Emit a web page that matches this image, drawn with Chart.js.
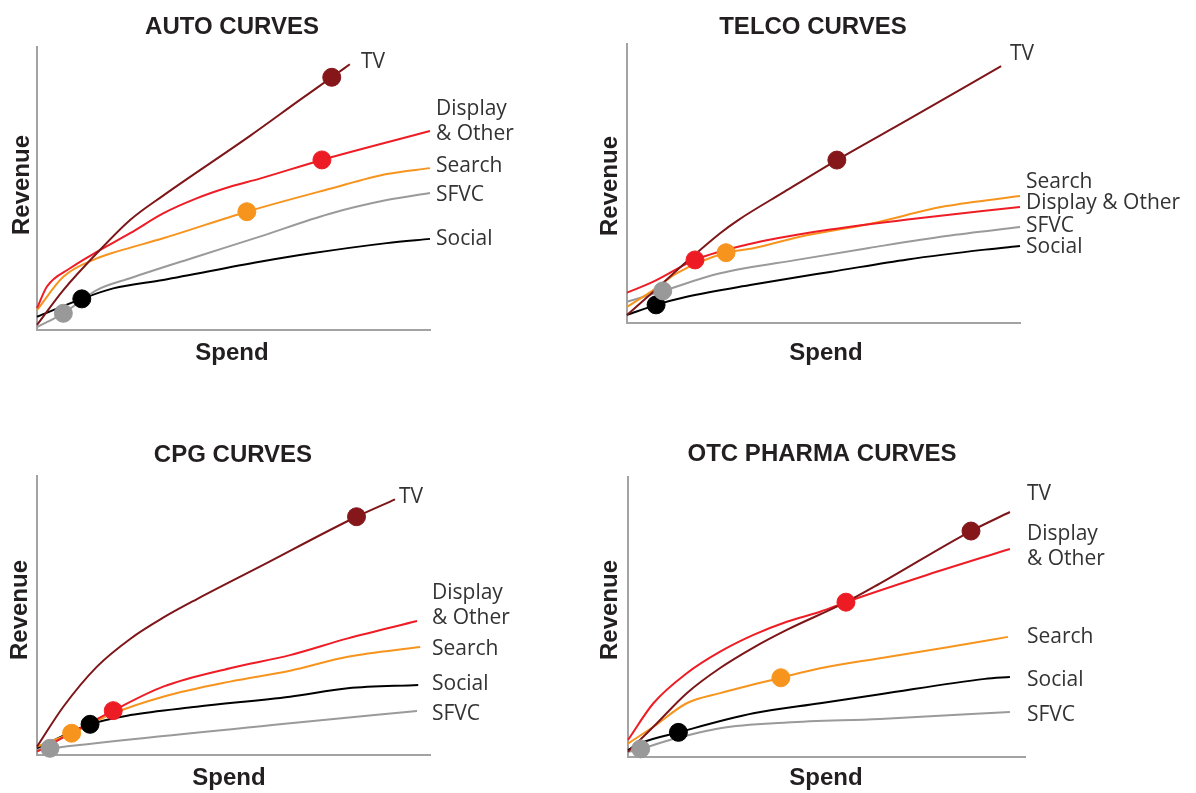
<!DOCTYPE html>
<html>
<head>
<meta charset="utf-8">
<script src="https://cdn.jsdelivr.net/npm/chart.js@4.4.1/dist/chart.umd.min.js"></script>
<style>
  html, body { margin: 0; padding: 0; background: #fff; }
  body { width: 1196px; height: 793px; position: relative; overflow: hidden; }
  canvas { position: absolute; }
</style>
</head>
<body>
<canvas id="auto" width="598" height="400" style="left:0;top:0"></canvas>
<canvas id="telco" width="598" height="400" style="left:598px;top:0"></canvas>
<canvas id="cpg" width="598" height="393" style="left:0;top:400px"></canvas>
<canvas id="otc" width="598" height="393" style="left:598px;top:400px"></canvas>
<script>
// channels, same order in every panel
const channels = ['TV', 'Display & Other', 'Search', 'SFVC', 'Social'];

// curves as [spend, revenue] on a 0-100 scale
const autoTV = [[0,1.8],[6.7,14.1],[15.2,27.1],[23.7,38.9],[32.1,47.5],[54.2,68.6],[66.9,81.3],[75,89.3],[79.6,93.9]];
const autoDisplay = [[0,7.7],[2.5,15.3],[8.4,21.8],[15.2,27.6],[23.7,34.2],[32.1,41.2],[40.6,46.5],[49.1,50.6],[56.7,53.5],[72.5,60.1],[100,70.3]];
const autoSearch = [[0,7],[6.7,18.8],[15.2,25.3],[20.3,27.7],[32.1,32.4],[53.4,41.8],[74.3,49.8],[89,55.1],[100,57.2]];
const autoSFVC = [[0,1],[6.7,5.9],[15.2,14.1],[23.7,18.3],[40.6,25.9],[56.7,33],[74.3,41],[89,45.9],[100,48.4]];
const autoSocial = [[0,4.7],[11.4,11],[19.4,14.7],[32.1,17.7],[56.7,24.1],[69.4,27],[89,30.7],[100,32.2]];
const autoDotX = [75, 72.5, 53.4, 6.7, 11.4];
const autoDotY = [89.3, 60.1, 41.8, 5.9, 11];

const telcoTV = [[0,2.9],[6.7,11.2],[15.2,22],[23.7,32.2],[28.3,36.9],[40,47],[53.4,58.4],[71.4,72.8],[95.2,92.1]];
const telcoDisplay = [[0,10.9],[6.7,14.8],[17.3,22.6],[32.1,28.6],[44,31.8],[51.7,33.5],[71.4,37.1],[100,41.6]];
const telcoSearch = [[0,5.8],[6.7,11.8],[12.6,17.8],[25.2,25.2],[32.1,26.8],[44,30.9],[61.6,35.5],[81.2,41.9],[100,45.5]];
const telcoSFVC = [[0,7.6],[9.1,11.5],[23.7,17.8],[44,22.8],[61.6,26.9],[81.2,31.2],[100,34.4]];
const telcoSocial = [[0,2.9],[7.4,6.5],[15.2,9.4],[32.1,13.8],[44,16.6],[51.7,18.3],[71.4,22.8],[91.1,26.3],[100,27.6]];
const telcoDotX = [53.4, 17.3, 25.2, 9.1, 7.4];
const telcoDotY = [58.4, 22.6, 25.2, 11.5, 6.5];

const cpgTV = [[0,3],[6.7,17.3],[15.2,31.6],[23.7,41.6],[32.1,49.2],[40.6,55.8],[56.7,67.5],[81.3,85.4],[91.1,91.6]];
const cpgDisplay = [[0,1.2],[19.4,15.9],[32.1,24.5],[49.1,31.1],[64.4,35.8],[79.1,41.8],[96.7,48]];
const cpgSearch = [[0,3],[8.8,7.8],[19.4,14.9],[32.1,20.9],[49.1,26.3],[64.4,30.2],[79.1,35.2],[97.5,38.7]];
const cpgSFVC = [[0,1.8],[3.3,2.4],[64.4,11.4],[96.7,15.8]];
const cpgSocial = [[0,2.4],[13.5,11],[23.7,14.3],[40.6,17.3],[64.4,20.9],[79.1,23.9],[97,25.1]];
const cpgDotX = [81.3, 19.4, 8.8, 3.3, 13.5];
const cpgDotY = [85.4, 15.9, 7.8, 2.4, 11];

const otcTV = [[0,1.9],[6.4,10.8],[14.8,22.8],[23.2,31.8],[31.6,39.1],[40,45.4],[54.9,55.3],[63.5,62],[86.4,80.7],[96.2,87.5]];
const otcDisplay = [[0,6.1],[6.4,19.2],[14.8,29.9],[23.2,37.6],[31.6,43.6],[40,48.3],[48.4,51.9],[54.9,55.3],[75.3,65],[96.2,74.3]];
const otcSearch = [[0,4.8],[6.4,10.8],[14.8,19.2],[23.2,22.8],[38.5,28.3],[48.4,31.7],[63.5,35.3],[80.1,39.1],[95.7,42.9]];
const otcSFVC = [[0,1.8],[3.2,2.9],[10.6,6.1],[23.2,10.3],[40,12.3],[63.5,13.6],[96.2,16.1]];
const otcSocial = [[0,2.5],[3,4.9],[12.7,8.8],[31.6,15.6],[48.4,19.2],[63.5,22.4],[89.9,27.9],[96.2,28.6]];
const otcDotX = [86.4, 54.9, 38.5, 3.2, 12.7];
const otcDotY = [80.7, 55.3, 28.3, 2.9, 8.8];

const lineColors = ['#7e1518', '#ee1c25', '#f7941d', '#9a9a9a', '#000000'];
const dotColors = ['#85171b', '#ed1c24', '#f7941d', '#999999', '#000000'];
const axisColor = '#a3a3a3';
const textColor = '#231f20';

const panels = [
  {
    id: 'auto', title: 'AUTO CURVES',
    series: [autoTV, autoDisplay, autoSearch, autoSFVC, autoSocial],
    dotX: autoDotX, dotY: autoDotY,
    padding: { left: 37, top: 47, right: 168, bottom: 70 },
    titlePos: [232, 27], revenuePos: [22, 185], spendPos: [232, 353],
    labels: [
      { text: ['TV'], x: 361, dy: -4 },
      { text: ['Display', '& Other'], x: 436, dy: -12 },
      { text: ['Search'], x: 436, dy: -4 },
      { text: ['SFVC'], x: 436, dy: 0 },
      { text: ['Social'], x: 436, dy: -2 }
    ]
  },
  {
    id: 'telco', title: 'TELCO CURVES',
    series: [telcoTV, telcoDisplay, telcoSearch, telcoSFVC, telcoSocial],
    dotX: telcoDotX, dotY: telcoDotY,
    padding: { left: 29, top: 44, right: 176, bottom: 77 },
    titlePos: [215, 27], revenuePos: [12, 186], spendPos: [228, 353],
    labels: [
      { text: ['TV'], x: 412, dy: -14 },
      { text: ['Display & Other'], x: 428, dy: -6 },
      { text: ['Search'], x: 428, dy: -16 },
      { text: ['SFVC'], x: 428, dy: -3 },
      { text: ['Social'], x: 428, dy: -1 }
    ]
  },
  {
    id: 'cpg', title: 'CPG CURVES',
    series: [cpgTV, cpgDisplay, cpgSearch, cpgSFVC, cpgSocial],
    dotX: cpgDotX, dotY: cpgDotY,
    padding: { left: 37, top: 76, right: 168, bottom: 38 },
    titlePos: [233, 55], revenuePos: [20, 210], spendPos: [229, 378],
    labels: [
      { text: ['TV'], x: 399, dy: -4 },
      { text: ['Display', '& Other'], x: 432, dy: -18 },
      { text: ['Search'], x: 432, dy: 0 },
      { text: ['SFVC'], x: 432, dy: 1 },
      { text: ['Social'], x: 432, dy: -3 }
    ]
  },
  {
    id: 'otc', title: 'OTC PHARMA CURVES',
    series: [otcTV, otcDisplay, otcSearch, otcSFVC, otcSocial],
    dotX: otcDotX, dotY: otcDotY,
    padding: { left: 30, top: 77, right: 171, bottom: 36 },
    titlePos: [224, 54], revenuePos: [12, 210], spendPos: [228, 378],
    labels: [
      { text: ['TV'], x: 429, dy: -20 },
      { text: ['Display', '& Other'], x: 429, dy: -4 },
      { text: ['Search'], x: 429, dy: -2 },
      { text: ['SFVC'], x: 429, dy: 1 },
      { text: ['Social'], x: 429, dy: 1 }
    ]
  }
];

// titles, axis names and end-of-line labels
const textPlugin = {
  id: 'curveText',
  afterDatasetsDraw(chart, args, opts) {
    const p = opts.panel;
    const ctx = chart.ctx;
    ctx.save();
    ctx.fillStyle = textColor;
    ctx.textAlign = 'center';
    ctx.textBaseline = 'middle';
    ctx.font = 'bold 24px "Liberation Sans"';
    ctx.fillText(p.title, p.titlePos[0], p.titlePos[1]);
    ctx.fillText('Spend', p.spendPos[0], p.spendPos[1]);
    ctx.save();
    ctx.translate(p.revenuePos[0], p.revenuePos[1]);
    ctx.rotate(-Math.PI / 2);
    ctx.fillText('Revenue', 0, 0);
    ctx.restore();

    ctx.font = '21px "Open Sans"';
    ctx.textAlign = 'left';
    ctx.fillStyle = '#333333';
    p.labels.forEach((lab, i) => {
      const meta = chart.getDatasetMeta(i + channels.length);
      const last = meta.data[meta.data.length - 1];
      const lh = 25;
      // +2 puts the cap height centre on the target line
      const y0 = last.y + lab.dy + 2 - (lab.text.length - 1) * lh / 2;
      lab.text.forEach((t, k) => ctx.fillText(t, lab.x, y0 + k * lh));
    });
    ctx.restore();
  }
};

panels.forEach(p => {
  const dotSets = channels.map((name, i) => ({
    label: name + ' point',
    data: [{ x: p.dotX[i], y: p.dotY[i] }],
    backgroundColor: dotColors[i],
    borderColor: dotColors[i],
    pointRadius: 9,
    pointHoverRadius: 9,
    showLine: false,
    clip: false,
    order: 0
  }));
  const lineSets = channels.map((name, i) => ({
    label: name,
    data: p.series[i].map(([x, y]) => ({ x, y })),
    borderColor: lineColors[i],
    borderWidth: 2,
    pointRadius: 0,
    showLine: true,
    cubicInterpolationMode: 'monotone',
    clip: false,
    order: 1
  }));

  new Chart(document.getElementById(p.id), {
    type: 'scatter',
    data: { datasets: dotSets.concat(lineSets) },
    options: {
      responsive: false,
      animation: false,
      events: [],
      layout: { padding: p.padding, autoPadding: false },
      plugins: {
        legend: { display: false },
        tooltip: { enabled: false },
        curveText: { panel: p }
      },
      scales: {
        x: {
          type: 'linear', min: 0, max: 100,
          grid: { display: false, drawTicks: false },
          ticks: { display: false },
          border: { display: true, color: axisColor, width: 2 }
        },
        y: {
          type: 'linear', min: 0, max: 100,
          grid: { display: false, drawTicks: false },
          ticks: { display: false },
          border: { display: true, color: axisColor, width: 2 }
        }
      }
    },
    plugins: [textPlugin]
  });
});
</script>
</body>
</html>
